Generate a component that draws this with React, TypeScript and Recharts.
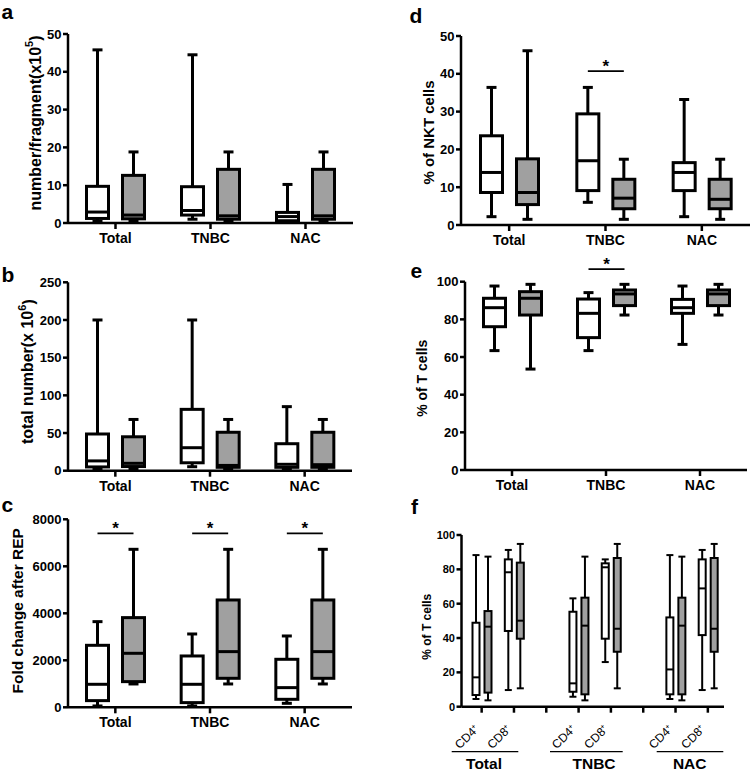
import React from "react";
import { ComposedChart, Bar, XAxis, YAxis } from "recharts";

const FONT = "'Liberation Sans', Arial, Helvetica, sans-serif";
const GRAY = "#a0a0a0";

// categories
const GROUPS = ["Total", "TNBC", "NAC"];
const F_KEYS = ["Total CD4+", "Total CD8+", "gap1", "TNBC CD4+", "TNBC CD8+", "gap2", "NAC CD4+", "NAC CD8+"];
const F_LABELS = ["CD4\u207A", "CD8\u207A", "", "CD4\u207A", "CD8\u207A", "", "CD4\u207A", "CD8\u207A"];

// box stats: [min, q1, median, q3, max]
const aWhite = [[0.4, 1.2, 2.9, 9.7, 45.8], [1.0, 2.1, 3.3, 9.6, 44.5], [0.2, 0.6, 1.7, 2.8, 10.2]];
const aGray = [[0.4, 1.1, 2.1, 12.6, 18.8], [0.4, 1.0, 1.9, 14.2, 18.8], [0.4, 1.0, 1.9, 14.2, 18.8]];

const bWhite = [[2, 5, 13, 48.7, 200], [5.3, 10.5, 30.5, 81.4, 200], [2, 4.5, 8.5, 35.8, 85]];
const bGray = [[2, 5.5, 9.8, 45, 68], [2, 4.5, 7, 51, 68], [2, 4.5, 8, 51, 68]];

const cWhite = [[57, 284, 979, 2638, 3645], [57, 199, 979, 2184, 3120], [170, 340, 837, 2043, 3035]];
const cGray = [[993, 1092, 2298, 3816, 6723], [993, 1234, 2369, 4567, 6723], [993, 1234, 2369, 4567, 6723]];
const cSig = [7400, 7400, 7400];

const dWhite = [[2.2, 8.6, 13.9, 23.6, 36.4], [6.0, 9.1, 17.0, 29.4, 36.4], [2.2, 9.1, 13.9, 16.5, 33.2]];
const dGray = [[1.5, 5.4, 8.6, 17.5, 46.1], [1.5, 4.3, 7.1, 12.1, 17.4], [1.5, 4.3, 6.8, 12.1, 17.4]];
const dSig = [null, 40.7, null];

const eWhite = [[63.4, 76.1, 86.2, 91.2, 97.7], [63.4, 70.3, 83.2, 90.8, 94.2], [66.7, 83.2, 86.2, 90.6, 97.7]];
const eGray = [[53.6, 82.3, 91.2, 94.7, 98.6], [82.3, 87.3, 93.5, 95.6, 98.6], [82.3, 87.3, 93.5, 95.6, 98.6]];
const eSig = [null, 106.7, null];

const fWhite = [
  [4.5, 6.8, 17.1, 48.9, 88.3], [9.7, 44.1, 78.3, 85.8, 91.3], null,
  [5.8, 8.7, 13.6, 55.3, 63.1], [26.0, 39.6, 81.2, 83.5, 85.8], null,
  [4.5, 7.2, 21.7, 52.0, 88.3], [9.7, 41.7, 68.9, 85.8, 91.3],
];
const fGray = [
  [3.7, 8.2, 46.6, 55.7, 87.4], [10.7, 39.6, 50.1, 83.9, 94.8], null,
  [3.7, 7.2, 47.2, 63.5, 87.4], [10.7, 32.0, 45.4, 86.6, 94.8], null,
  [3.7, 7.2, 47.2, 63.5, 87.4], [10.7, 32.0, 45.4, 86.6, 94.8],
];

// tick values
const aTicks = [0, 10, 20, 30, 40, 50];
const bTicks = [0, 50, 100, 150, 200, 250];
const cTicks = [0, 2000, 4000, 6000, 8000];
const dTicks = [0, 10, 20, 30, 40, 50];
const eTicks = [0, 20, 40, 60, 80, 100];
const fTicks = [0, 20, 40, 60, 80, 100];

type Stats = number[] | null;

function buildRows(keys: string[], white: Stats[], gray: Stats[], sig?: (number | null)[]) {
  return keys.map((k, i) => ({
    cat: k,
    w: white[i] ? [white[i]![0], white[i]![4]] : null,
    g: gray[i] ? [gray[i]![0], gray[i]![4]] : null,
    ws: white[i],
    gs: gray[i],
    sigVal: sig ? sig[i] : null,
  }));
}

function BoxShape(props: any) {
  const { x, y, width, height, stats, fill, sw, capW, sigY, spacing } = props;
  if (!stats || x == null || y == null || height == null) return null;
  const [mn, q1, md, q3, mx] = stats;
  const top = Math.min(y, y + height);
  const bot = Math.max(y, y + height);
  const py = (v: number) => top + ((mx - v) / (mx - mn)) * (bot - top);
  const cx = x + width / 2;
  const h = sw / 2;
  const st = { stroke: "#000", strokeWidth: sw };
  return (
    <g>
      <line x1={cx} x2={cx} y1={py(mx)} y2={py(q3)} {...st} />
      <line x1={cx} x2={cx} y1={py(q1)} y2={py(mn)} {...st} />
      <line x1={cx - capW / 2} x2={cx + capW / 2} y1={py(mx)} y2={py(mx)} {...st} />
      <line x1={cx - capW / 2} x2={cx + capW / 2} y1={py(mn)} y2={py(mn)} {...st} />
      <rect x={x + h} y={py(q3)} width={width - sw} height={py(q1) - py(q3)} fill={fill} {...st} />
      <line x1={x + h} x2={x + width - h} y1={py(md)} y2={py(md)} {...st} />
      {sigY != null && spacing != null && (
        <g>
          <line x1={cx - spacing} x2={cx} y1={py(sigY)} y2={py(sigY)} stroke="#000" strokeWidth={1.8} />
          <text x={cx - spacing / 2} y={py(sigY) + 1} textAnchor="middle" fontSize={17} fontWeight="bold" fontFamily={FONT} fill="#000">*</text>
        </g>
      )}
    </g>
  );
}

const axisStroke = { stroke: "#000", strokeWidth: 2.5 };

function BoxPanel(p: any) {
  const { left, top, w, h, margin, yW, xH, rows, domain, ticks, barSize, barGap, sw, capW, yFont, xTick, xPad, xAngle, xFormatter, xMargin } = p;
  return (
    <div style={{ position: "absolute", left, top }}>
      <ComposedChart width={w} height={h} data={rows} margin={margin} barSize={barSize} barGap={barGap}>
        <XAxis
          dataKey="cat"
          type="category"
          interval={0}
          height={xH}
          padding={xPad || { left: 0, right: 0 }}
          tickSize={6}
          tickMargin={xMargin != null ? xMargin : 4}
          angle={xAngle || 0}
          tickFormatter={xFormatter}
          axisLine={axisStroke}
          tickLine={axisStroke}
          tick={xTick || { fill: "#000", fontSize: 14, fontWeight: "bold", fontFamily: FONT }}
        />
        <YAxis
          type="number"
          domain={domain}
          ticks={ticks}
          interval={0}
          width={yW}
          tickSize={5}
          tickMargin={1.5}
          axisLine={axisStroke}
          tickLine={axisStroke}
          tick={{ fill: "#000", fontSize: yFont, fontWeight: "bold", fontFamily: FONT }}
        />
        <Bar
          dataKey="w"
          isAnimationActive={false}
          shape={(s: any) => {
            const r = s.payload || rows[s.index];
            return <BoxShape {...s} stats={r.ws} fill="#fff" sw={sw} capW={capW} sigY={null} />;
          }}
        />
        <Bar
          dataKey="g"
          isAnimationActive={false}
          shape={(s: any) => {
            const r = s.payload || rows[s.index];
            return <BoxShape {...s} stats={r.gs} fill={GRAY} sw={sw} capW={capW} sigY={r.sigVal} spacing={barSize + barGap} />;
          }}
        />
      </ComposedChart>
    </div>
  );
}

const rowsA = buildRows(GROUPS, aWhite, aGray);
const rowsB = buildRows(GROUPS, bWhite, bGray);
const rowsC = buildRows(GROUPS, cWhite, cGray, cSig);
const rowsD = buildRows(GROUPS, dWhite, dGray, dSig);
const rowsE = buildRows(GROUPS, eWhite, eGray, eSig);
const rowsF = buildRows(F_KEYS, fWhite, fGray);

const fFormatter = (v: string) => {
  const i = F_KEYS.indexOf(v);
  return i >= 0 ? F_LABELS[i] : "";
};

const txt = { fontFamily: FONT, fontWeight: "bold" as const, fill: "#000" };

function YLabel({ cx, cy, size, children }: any) {
  return (
    <text x={cx} y={cy} transform={`rotate(-90 ${cx} ${cy})`} textAnchor="middle" dominantBaseline="central" fontSize={size} {...txt}>
      {children}
    </text>
  );
}

export default function App() {
  const big = { barSize: 25, barGap: 11, sw: 3, capW: 10, yFont: 13 };
  return (
    <div style={{ position: "absolute", left: 0, top: 0, width: 751, height: 775, background: "#fff", overflow: "hidden" }}>
      <BoxPanel left={0} top={0} w={360} h={250} margin={{ top: 34, right: 7, bottom: 0, left: 0 }} yW={68} xH={27} rows={rowsA} domain={[0, 50]} ticks={aTicks} {...big} />
      <BoxPanel left={0} top={250} w={360} h={250} margin={{ top: 32.3, right: 8, bottom: 0, left: 0 }} yW={68} xH={29.3} rows={rowsB} domain={[0, 250]} ticks={bTicks} {...big} />
      <BoxPanel left={0} top={505} w={360} h={240} margin={{ top: 14.3, right: 8, bottom: 0, left: 0 }} yW={68} xH={37.7} rows={rowsC} domain={[0, 8000]} ticks={cTicks} {...big} />
      <BoxPanel left={375} top={0} w={376} h={250} margin={{ top: 36, right: 1, bottom: 0, left: 0 }} yW={86} xH={25} rows={rowsD} domain={[0, 50]} ticks={dTicks} {...big} />
      <BoxPanel left={375} top={250} w={376} h={250} margin={{ top: 31.7, right: 4, bottom: 0, left: 0 }} yW={90} xH={30} rows={rowsE} domain={[0, 100]} ticks={eTicks} {...big} />
      <BoxPanel left={375} top={505} w={376} h={270} margin={{ top: 30, right: 27, bottom: 5, left: 0 }} yW={86.5} xH={63.3} rows={rowsF} domain={[0, 100]} ticks={fTicks}
        barSize={9} barGap={3} sw={2} capW={7} yFont={11}
        xAngle={-45} xMargin={11} xFormatter={fFormatter}
        xTick={{ fill: "#000", fontSize: 12, fontFamily: FONT, textAnchor: "end", dx: -8 }}
        xPad={{ left: 4, right: 0 }} />
      <svg width={751} height={775} style={{ position: "absolute", left: 0, top: 0, pointerEvents: "none" }}>
        <text x={1.5} y={19} fontSize={21} {...txt}>a</text>
        <text x={1.5} y={281.5} fontSize={21} {...txt}>b</text>
        <text x={1.5} y={512} fontSize={21} {...txt}>c</text>
        <text x={409.5} y={22.5} fontSize={21} {...txt}>d</text>
        <text x={410.5} y={278} fontSize={21} {...txt}>e</text>
        <text x={411} y={514} fontSize={21} {...txt}>f</text>

        <YLabel cx={35} cy={123} size={16}>
          number/fragment(x10<tspan dy={-6} fontSize={11}>5</tspan><tspan dy={6}>)</tspan>
        </YLabel>
        <YLabel cx={28} cy={371.7} size={16}>
          total number(x 10<tspan dy={-6} fontSize={11}>6</tspan><tspan dy={6}>)</tspan>
        </YLabel>
        <YLabel cx={18} cy={610.8} size={15.5}>Fold change after REP</YLabel>
        <YLabel cx={428.3} cy={132.5} size={15}>% of NKT cells</YLabel>
        <YLabel cx={421.7} cy={378.3} size={14}>% of T cells</YLabel>
        <YLabel cx={426.7} cy={626.7} size={12}>% of T cells</YLabel>

        <line x1={451.7} x2={518.3} y1={751.7} y2={751.7} stroke="#000" strokeWidth={1.3} />
        <line x1={550} x2={622.7} y1={751.7} y2={751.7} stroke="#000" strokeWidth={1.3} />
        <line x1={656.7} x2={723.3} y1={751.7} y2={751.7} stroke="#000" strokeWidth={1.3} />
        <text x={484} y={769} textAnchor="middle" fontSize={15.5} {...txt}>Total</text>
        <text x={594} y={769} textAnchor="middle" fontSize={15.5} {...txt}>TNBC</text>
        <text x={689.7} y={769} textAnchor="middle" fontSize={15.5} {...txt}>NAC</text>
      </svg>
    </div>
  );
}
